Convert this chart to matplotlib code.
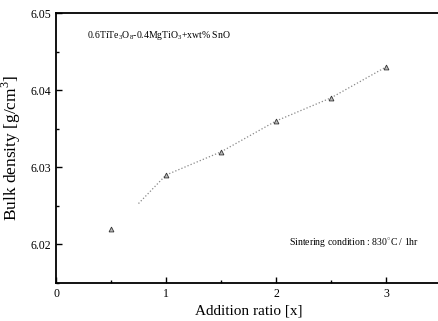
import matplotlib
matplotlib.use('Agg')
import matplotlib.pyplot as plt
from matplotlib.ticker import MultipleLocator

# data
ratio = [0.5, 1.0, 1.5, 2.0, 2.5, 3.0]
density = [6.022, 6.029, 6.032, 6.036, 6.039, 6.043]
# dotted trend line (starts a bit before x=1)
trend_x = [0.75, 1.0, 1.5, 2.0, 2.5, 3.0]
trend_y = [6.0253, 6.029, 6.032, 6.036, 6.039, 6.043]

plt.rcParams['font.family'] = ['Liberation Serif', 'DejaVu Serif']
plt.rcParams['mathtext.fontset'] = 'custom'
plt.rcParams['mathtext.rm'] = 'Liberation Serif'

fig = plt.figure(figsize=(4.39, 3.21), dpi=100)
ax = fig.add_axes([56 / 439, 1 - 283 / 321, 385 / 439, 270 / 321])

ax.plot(trend_x, trend_y, ls=':', lw=0.9, color='#888888')
ax.plot(ratio, density, ls='none', marker='^', ms=3.5, mfc='#bbbbbb', mec='#333333', mew=0.6)

ax.set_xlim(0, 3.5)
ax.set_ylim(6.015, 6.05)
ax.xaxis.set_major_locator(MultipleLocator(1))
ax.xaxis.set_minor_locator(MultipleLocator(0.5))
ax.yaxis.set_major_locator(MultipleLocator(0.01))
ax.yaxis.set_minor_locator(MultipleLocator(0.005))
ax.tick_params(which='both', direction='in', top=False, right=False, labelsize=8.5)
ax.tick_params(which='major', length=4, width=1)
ax.tick_params(which='minor', length=2, width=1)
ax.xaxis.set_major_formatter(plt.FuncFormatter(lambda v, p: '%d' % v))
ax.yaxis.set_major_formatter(plt.FuncFormatter(lambda v, p: '%.2f' % v))
for s in ax.spines.values():
    s.set_linewidth(1.3)

ax.set_xlabel('Addition ratio [x]', fontsize=11, labelpad=3)
ax.set_ylabel('Bulk density [g/cm$^3$]', fontsize=12.5, labelpad=5)

ax.text(0.08, 0.915, r'0.6TiTe$_3$O$_8$-0.4MgTiO$_3$+xwt% SnO', transform=ax.transAxes,
        fontsize=7, va='center')
ax.text(0.605, 0.15, 'Sintering condition : 830$^{\\circ}$C / 1hr', transform=ax.transAxes,
        fontsize=7, va='center')

fig.savefig('out.png', dpi=100)
